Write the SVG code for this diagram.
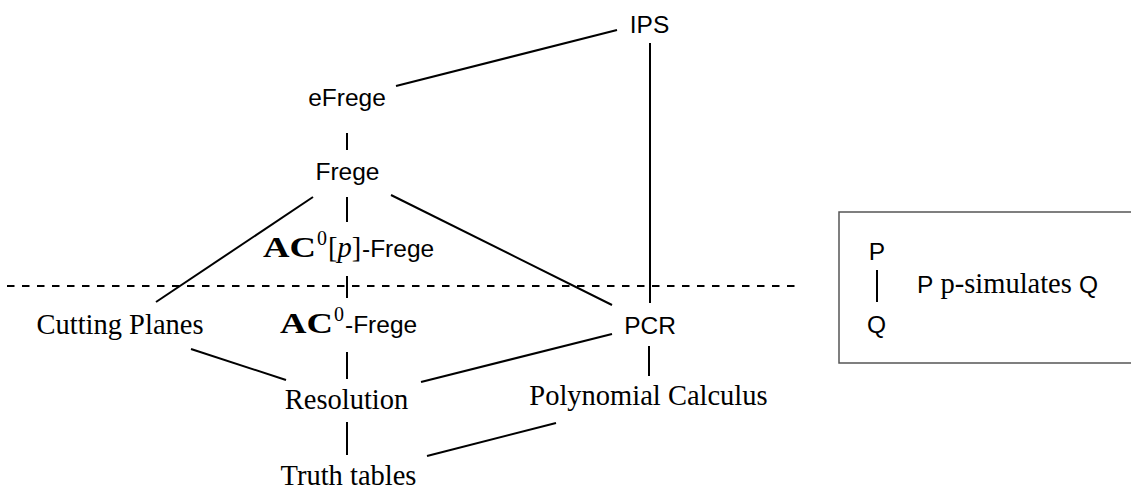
<svg xmlns="http://www.w3.org/2000/svg" width="1131" height="493" viewBox="0 0 1131 493">
<style>
.sans{font-family:"Liberation Sans",Arial,sans-serif;font-size:24.5px;fill:#000}
.serif{font-family:"Liberation Serif","Times New Roman",serif;font-size:28.5px;fill:#000}
.bold{font-family:"Liberation Serif","Times New Roman",serif;font-size:28.5px;font-weight:bold;fill:#000}
.sup{font-family:"Liberation Serif","Times New Roman",serif;font-size:20px;fill:#000}
.c{text-anchor:middle}
.edge{stroke:#000;stroke-width:2;fill:none}
.dash{stroke:#000;stroke-width:2;stroke-dasharray:7.5 7.5;fill:none}
</style>
<rect width="1131" height="493" fill="#fff"/>
<g id="connectors">
<line class="edge" x1="396" y1="86" x2="617" y2="30"/>
<line class="edge" x1="650" y1="43" x2="650" y2="303"/>
<line class="edge" x1="347" y1="133" x2="347" y2="150"/>
<line class="edge" x1="347" y1="197" x2="347" y2="222"/>
<line class="edge" x1="347" y1="276" x2="347" y2="298"/>
<line class="edge" x1="313" y1="197" x2="156" y2="302"/>
<line class="edge" x1="391" y1="195" x2="612" y2="305"/>
<line class="edge" x1="191" y1="349" x2="286" y2="380"/>
<line class="edge" x1="347" y1="352" x2="347" y2="379"/>
<line class="edge" x1="421" y1="382" x2="612" y2="334"/>
<line class="edge" x1="649" y1="346" x2="649" y2="376"/>
<line class="edge" x1="347" y1="422" x2="347" y2="455"/>
<line class="edge" x1="427" y1="456" x2="556" y2="423"/>
</g>
<g id="divider">
<line class="dash" x1="7" y1="286" x2="795" y2="286"/>
</g>
<g id="IPS"><text class="sans c" x="649.5" y="33">IPS</text></g>
<g id="eFrege"><text class="sans c" x="347" y="106">eFrege</text></g>
<g id="Frege"><text class="sans c" x="347.5" y="180">Frege</text></g>
<g id="AC0p-Frege">
<text class="bold" x="263" y="257" textLength="53" lengthAdjust="spacingAndGlyphs">AC</text>
<text class="sup" x="317" y="245">0</text>
<text class="serif" x="328" y="257" font-size="24">[<tspan font-style="italic">p</tspan>]</text>
<text class="sans" x="362" y="257">-Frege</text>
</g>
<g id="AC0-Frege">
<text class="bold" x="280" y="333" textLength="53" lengthAdjust="spacingAndGlyphs">AC</text>
<text class="sup" x="334" y="321">0</text>
<text class="sans" x="345" y="333">-Frege</text>
</g>
<g id="CuttingPlanes"><text class="serif c" x="120" y="334">Cutting Planes</text></g>
<g id="PCR"><text class="sans c" x="650" y="334">PCR</text></g>
<g id="Resolution"><text class="serif c" x="346.5" y="409">Resolution</text></g>
<g id="PolynomialCalculus"><text class="serif c" x="648.5" y="405">Polynomial Calculus</text></g>
<g id="TruthTables"><text class="serif c" x="348.5" y="485">Truth tables</text></g>
<g id="legend">
<rect x="839" y="212" width="300" height="151" fill="none" stroke="#555" stroke-width="1.5"/>
<text class="sans c" x="877" y="260">P</text>
<line class="edge" x1="877" y1="270" x2="877" y2="302"/>
<text class="sans c" x="876.5" y="333">Q</text>
<text class="serif" x="917" y="293"><tspan class="sans">P</tspan> p-simulates <tspan class="sans">Q</tspan></text>
</g>
</svg>
